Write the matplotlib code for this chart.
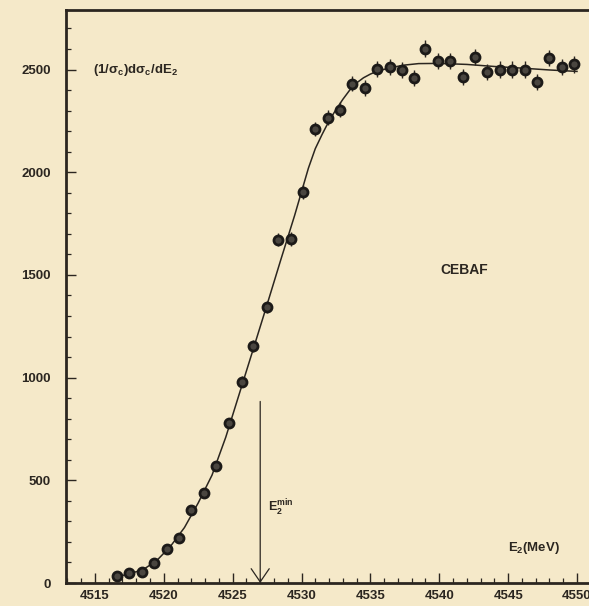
import matplotlib
matplotlib.use('Agg')
import matplotlib.pyplot as plt
from matplotlib.ticker import MultipleLocator

# measured points, E2 in MeV
energy = [4516.6, 4517.5, 4518.4, 4519.3, 4520.25, 4521.1, 4522.0, 4522.9, 4523.8,
          4524.75, 4525.7, 4526.5, 4527.5, 4528.3, 4529.2, 4530.1, 4531.0, 4531.9,
          4532.8, 4533.7, 4534.6, 4535.5, 4536.4, 4537.3, 4538.2, 4539.0, 4539.9,
          4540.8, 4541.7, 4542.6, 4543.5, 4544.4, 4545.3, 4546.2, 4547.1, 4548.0,
          4548.9, 4549.8]
rate = [34, 47, 55, 99, 164, 219, 356, 437, 572, 778, 981, 1155, 1343, 1672, 1675,
        1904, 2211, 2265, 2305, 2432, 2411, 2503, 2513, 2497, 2459, 2602, 2541, 2541,
        2464, 2562, 2489, 2500, 2500, 2500, 2440, 2557, 2513, 2525]
rate_err = [10, 10, 10, 12, 14, 15, 18, 20, 22, 25, 28, 30, 30, 32, 32, 34, 36, 36,
            36, 38, 38, 40, 40, 40, 40, 40, 40, 40, 40, 40, 40, 40, 40, 40, 40, 40,
            40, 40]

# fitted curve
fit_e = [4516.5, 4517.5, 4518.5, 4519.5, 4520.5, 4521.5, 4522.5, 4523.5, 4524.5,
         4525.5, 4526.5, 4527.5, 4528.5, 4529.5, 4530.0, 4530.5, 4531.0, 4531.5,
         4532.0, 4532.5, 4533.0, 4533.5, 4534.0, 4534.5, 4535.0, 4535.5, 4536.5,
         4537.5, 4538.5, 4540, 4542, 4544, 4546, 4548, 4550]
fit_v = [28, 45, 65, 110, 180, 270, 390, 525, 710, 925, 1140, 1356, 1575, 1790, 1905,
         2020, 2115, 2185, 2250, 2305, 2355, 2400, 2435, 2460, 2478, 2492, 2510, 2522,
         2529, 2530, 2525, 2515, 2507, 2498, 2491]

E2_MIN = 4527.0
BG = '#f5e9c9'
INK = '#2b2620'

plt.rcParams['font.family'] = ['Liberation Sans', 'DejaVu Sans']
plt.rcParams['font.weight'] = 'bold'
plt.rcParams['mathtext.fontset'] = 'custom'
plt.rcParams['mathtext.rm'] = 'Liberation Sans:bold'
plt.rcParams['mathtext.it'] = 'Liberation Sans:bold'
plt.rcParams['mathtext.bf'] = 'Liberation Sans:bold'

fig = plt.figure(figsize=(5.89, 6.06), dpi=100, facecolor=BG)
ax = fig.add_axes([66 / 589, 23 / 606, 534 / 589, 573 / 606], facecolor=BG)

ax.plot(fit_e, fit_v, color=INK, lw=1.1, zorder=2)
ax.errorbar(energy, rate, yerr=rate_err, fmt='o', ms=6.5, mfc='#4a4640', mec='#1c1a18',
            mew=2.0, ecolor=INK, elinewidth=1.0, capsize=0, zorder=3)

# E2 min arrow
ax.annotate('', xy=(E2_MIN, 0), xytext=(E2_MIN, 884),
            arrowprops=dict(arrowstyle='->,head_length=0.95,head_width=0.65',
                            color=INK, lw=0.9, shrinkA=0, shrinkB=0))
ax.text(E2_MIN + 0.55, 365, r'E$_2^{min}$', fontsize=9, color=INK, va='center', ha='left')

ax.text(4514.85, 2500, r'(1/σ$_c$)dσ$_c$/dE$_2$', fontsize=9.5, color=INK,
        va='center', ha='left')
ax.text(4541.8, 1525, 'CEBAF', fontsize=10, color=INK, ha='center', va='center')
ax.text(4545.0, 170, r'E$_2$(MeV)', fontsize=9.5, color=INK, ha='left', va='center')

ax.set_xlim(4512.9, 4551.67)
ax.set_ylim(0, 2790)
ax.xaxis.set_major_locator(MultipleLocator(5))
ax.xaxis.set_minor_locator(MultipleLocator(1))
ax.yaxis.set_major_locator(MultipleLocator(500))
ax.yaxis.set_minor_locator(MultipleLocator(100))

ax.tick_params(axis='both', which='both', direction='in', colors=INK, labelcolor=INK,
               labelsize=9.5, top=False, right=False)
ax.tick_params(axis='both', which='major', length=7, width=1.0)
ax.tick_params(axis='both', which='minor', length=3.5, width=0.9)
ax.tick_params(axis='y', which='major', pad=11)
ax.tick_params(axis='x', which='major', pad=5)

for side in ['left', 'bottom', 'top']:
    ax.spines[side].set_linewidth(2.0)
    ax.spines[side].set_color(INK)
ax.spines['right'].set_visible(False)

fig.savefig('out.png', dpi=100, facecolor=BG)
